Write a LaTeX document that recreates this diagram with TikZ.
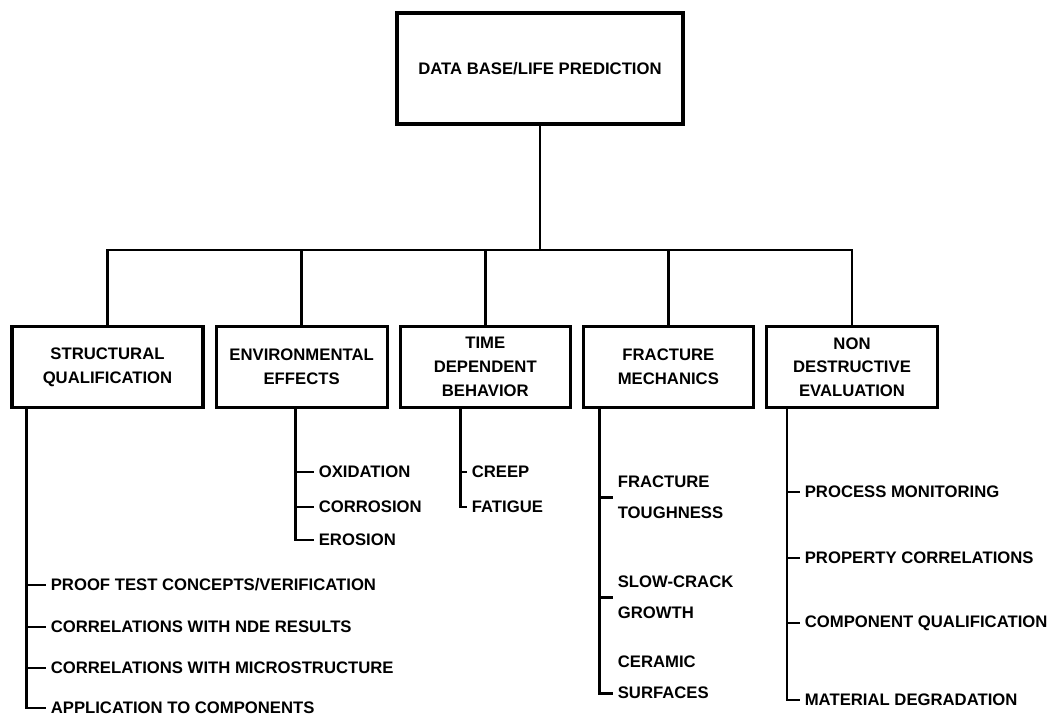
\documentclass[tikz,border=0pt]{standalone}
\usepackage{fontspec}
\setmainfont{Liberation Sans}
\usetikzlibrary{positioning}
\tikzset{basic/.style={draw,line width=1.8pt,align=center}}
\tikzset{branch/.style={basic,minimum height=1.62cm,inner sep=2pt,font=\fontsize{9.5}{13.5}\selectfont\bfseries}}
\tikzset{leaf/.style={anchor=west,inner sep=2pt,align=left}}

\begin{document}
\begin{tikzpicture}[
    x=0.02cm, y=-0.02cm,
    node distance=0.2cm,
    font=\fontsize{9.5}{17.5}\selectfont\bfseries,
    line width=1.5pt
  ]
  \useasboundingbox (0,0) rectangle (1059,717);

  % Root box
  \node (root) [basic, minimum width=5.72cm, minimum height=2.22cm] at (540,68.5) {DATA BASE/LIFE PREDICTION};

  % Branch boxes
  \node (sq)  [branch, minimum width=3.82cm] at (107.5,367) {STRUCTURAL\\QUALIFICATION};
  \node (ee)  [branch, minimum width=3.42cm, right=of sq]  {ENVIRONMENTAL\\EFFECTS};
  \node (tdb) [branch, minimum width=3.4cm,  right=of ee]  {TIME\\DEPENDENT\\BEHAVIOR};
  \node (fm)  [branch, minimum width=3.4cm,  right=of tdb] {FRACTURE\\MECHANICS};
  \node (nde) [branch, minimum width=3.42cm, right=of fm]  {NON\\DESTRUCTIVE\\EVALUATION};

  % Bus from root to branches
  \coordinate (bus) at (540,250);
  \draw (root.south) -- (root.south |- bus);
  \draw (sq.north) |- (bus) -| (nde.north);
  \foreach \b in {ee,tdb,fm}
    \draw (\b.north) -- (\b.north |- bus);

  % Stems under the branches
  \coordinate (sqstem)  at ([xshift=0.32cm]sq.south west);
  \coordinate (eestem)  at ([xshift=1.62cm]ee.south west);
  \coordinate (tdbstem) at ([xshift=1.24cm]tdb.south west);
  \coordinate (fmstem)  at ([xshift=0.36cm]fm.south west);
  \coordinate (ndestem) at ([xshift=0.44cm]nde.south west);

  % Structural qualification
  \node (ptc)  [leaf] at (46,585) {PROOF TEST CONCEPTS/VERIFICATION};
  \node (cnde) [leaf] at (46,627) {CORRELATIONS WITH NDE RESULTS};
  \node (cmic) [leaf] at (46,668) {CORRELATIONS WITH MICROSTRUCTURE};
  \node (app)  [leaf] at (46,708) {APPLICATION TO COMPONENTS};
  \draw (sqstem) |- (app.west);
  \foreach \l in {ptc,cnde,cmic}
    \draw (sqstem |- \l.west) -- (\l.west);

  % Environmental effects
  \node (oxi) [leaf] at (314,472) {OXIDATION};
  \node (cor) [leaf] at (314,507) {CORROSION};
  \node (ero) [leaf] at (314,540) {EROSION};
  \draw (eestem) |- (ero.west);
  \foreach \l in {oxi,cor}
    \draw (eestem |- \l.west) -- (\l.west);

  % Time dependent behavior
  \node (creep) [leaf] at (467,472) {CREEP};
  \node (fat)   [leaf] at (467,507) {FATIGUE};
  \draw (tdbstem) |- (fat.west);
  \draw (tdbstem |- creep.west) -- (creep.west);

  % Fracture mechanics
  \node (ft)  [leaf] at (613,497.5) {FRACTURE\\TOUGHNESS};
  \node (scg) [leaf] at (613,597.5) {SLOW-CRACK\\GROWTH};
  \node (cs)  [leaf] at (613,677.5) {CERAMIC\\SURFACES};
  \draw (fmstem) |- ([yshift=0.2cm]cs.south west);
  \foreach \l in {ft,scg}
    \draw (fmstem |- \l.west) -- (\l.west);

  % Non destructive evaluation
  \node (pm) [leaf] at (800,492) {PROCESS MONITORING};
  \node (pc) [leaf] at (800,558) {PROPERTY CORRELATIONS};
  \node (cq) [leaf] at (800,623) {COMPONENT QUALIFICATION};
  \node (md) [leaf] at (800,700) {MATERIAL DEGRADATION};
  \draw (ndestem) |- (md.west);
  \foreach \l in {pm,pc,cq}
    \draw (ndestem |- \l.west) -- (\l.west);

\end{tikzpicture}
\end{document}
